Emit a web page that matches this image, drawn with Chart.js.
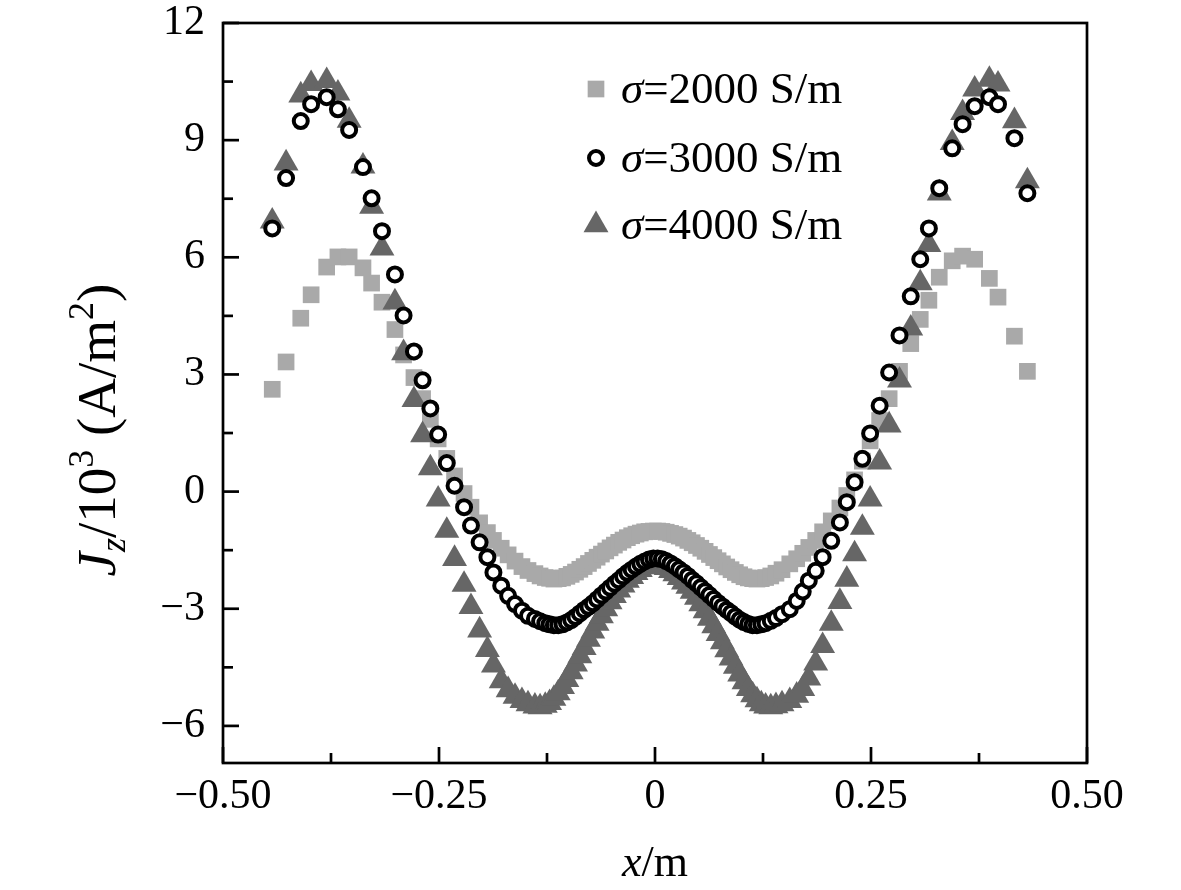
<!DOCTYPE html>
<html>
<head>
<meta charset="utf-8">
<script src="https://cdn.jsdelivr.net/npm/chart.js@4.4.1/dist/chart.umd.min.js"></script>
<style>
  html, body { margin: 0; padding: 0; background: #fff; }
  #wrap { width: 1181px; height: 890px; }
</style>
</head>
<body>
<div id="wrap"><canvas id="myChart" width="1181" height="890"></canvas></div>
<script>
//data (x in m, Jz in 10^3 A/m^2)
const xPos = [
  -0.443, -0.427, -0.410, -0.398, -0.380, -0.367, -0.354, -0.338, -0.328, -0.316,
  -0.301, -0.291, -0.279, -0.269, -0.260, -0.251, -0.241, -0.232, -0.221, -0.213,
  -0.203, -0.194, -0.187, -0.178, -0.170, -0.162, -0.154, -0.147, -0.139, -0.133,
  -0.127, -0.122, -0.117, -0.112, -0.107, -0.102, -0.097, -0.092, -0.087, -0.082,
  -0.077, -0.072, -0.067, -0.062, -0.057, -0.052, -0.047, -0.042, -0.037, -0.032,
  -0.027, -0.022, -0.017, -0.012, -0.007, -0.002, 0.003, 0.008, 0.013, 0.018,
  0.023, 0.028, 0.033, 0.038, 0.043, 0.048, 0.053, 0.058, 0.063, 0.068,
  0.073, 0.078, 0.083, 0.088, 0.093, 0.098, 0.103, 0.108, 0.113, 0.118,
  0.123, 0.128, 0.134, 0.140, 0.147, 0.156, 0.164, 0.171, 0.178, 0.186,
  0.194, 0.204, 0.214, 0.222, 0.231, 0.240, 0.249, 0.260, 0.271, 0.283,
  0.296, 0.307, 0.317, 0.329, 0.344, 0.356, 0.370, 0.387, 0.397, 0.416,
  0.431
];
const j2000 = [
  2.62, 3.32, 4.44, 5.04, 5.75, 6.01, 6.01, 5.73, 5.34, 4.85,
  4.15, 3.50, 2.92, 2.38, 1.85, 1.35, 0.85, 0.40, -0.05, -0.40,
  -0.80, -1.05, -1.25, -1.45, -1.62, -1.78, -1.92, -2.02, -2.10, -2.16,
  -2.20, -2.22, -2.24, -2.23, -2.21, -2.17, -2.12, -2.06, -1.99, -1.92,
  -1.84, -1.76, -1.68, -1.60, -1.52, -1.44, -1.37, -1.30, -1.24, -1.18,
  -1.13, -1.09, -1.06, -1.03, -1.02, -1.01, -1.01, -1.02, -1.04, -1.07,
  -1.10, -1.14, -1.19, -1.25, -1.31, -1.38, -1.45, -1.53, -1.61, -1.69,
  -1.77, -1.85, -1.93, -2.00, -2.07, -2.13, -2.18, -2.21, -2.23, -2.24,
  -2.23, -2.20, -2.16, -2.09, -2.00, -1.85, -1.72, -1.58, -1.43, -1.25,
  -1.03, -0.75, -0.42, -0.10, 0.30, 0.78, 1.30, 1.82, 2.38, 3.08,
  3.79, 4.41, 4.90, 5.49, 5.91, 6.03, 5.95, 5.46, 4.98, 3.98,
  3.08
];
const j3000 = [
  6.74, 8.03, 9.49, 9.92, 10.10, 9.79, 9.26, 8.31, 7.51, 6.67,
  5.56, 4.51, 3.59, 2.85, 2.13, 1.46, 0.73, 0.15, -0.40, -0.87,
  -1.30, -1.68, -2.07, -2.41, -2.67, -2.88, -3.05, -3.18, -3.26, -3.32,
  -3.37, -3.40, -3.42, -3.42, -3.40, -3.35, -3.29, -3.21, -3.12, -3.03,
  -2.95, -2.86, -2.76, -2.66, -2.56, -2.46, -2.36, -2.27, -2.17, -2.08,
  -2.00, -1.92, -1.85, -1.79, -1.74, -1.71, -1.71, -1.73, -1.78, -1.84,
  -1.91, -1.99, -2.07, -2.16, -2.26, -2.35, -2.45, -2.55, -2.65, -2.75,
  -2.85, -2.94, -3.03, -3.11, -3.20, -3.28, -3.34, -3.39, -3.42, -3.42,
  -3.40, -3.37, -3.31, -3.24, -3.14, -3.01, -2.80, -2.56, -2.28, -2.03,
  -1.68, -1.26, -0.79, -0.27, 0.24, 0.84, 1.49, 2.20, 3.05, 4.00,
  5.00, 5.95, 6.74, 7.77, 8.79, 9.41, 9.87, 10.10, 9.92, 9.05,
  7.64
];
const j4000 = [
  6.92, 8.41, 10.15, 10.44, 10.52, 10.20, 9.50, 8.33, 7.30, 6.23,
  4.85, 3.55, 2.35, 1.45, 0.60, -0.20, -1.00, -1.72, -2.38, -2.95,
  -3.55, -4.05, -4.45, -4.85, -5.08, -5.25, -5.36, -5.44, -5.50, -5.52,
  -5.48, -5.41, -5.30, -5.16, -5.00, -4.82, -4.62, -4.42, -4.21, -4.00,
  -3.79, -3.58, -3.38, -3.19, -3.01, -2.83, -2.67, -2.53, -2.40, -2.28,
  -2.18, -2.08, -2.00, -1.93, -1.88, -1.85, -1.86, -1.90, -1.95, -2.03,
  -2.11, -2.21, -2.32, -2.43, -2.56, -2.71, -2.88, -3.06, -3.25, -3.44,
  -3.64, -3.85, -4.06, -4.27, -4.48, -4.68, -4.88, -5.05, -5.21, -5.34,
  -5.44, -5.50, -5.52, -5.49, -5.44, -5.36, -5.22, -5.05, -4.78, -4.40,
  -3.95, -3.38, -2.82, -2.25, -1.60, -0.92, -0.20, 0.75, 1.70, 2.85,
  4.18, 5.34, 6.32, 7.64, 8.93, 9.70, 10.30, 10.55, 10.43, 9.49,
  7.95
];
const seriesNames = ['2000', '3000', '4000'];
//ticks: every value gets an inward tick, labelled ones are the major ticks
const xTickValues = [-0.5, -0.375, -0.25, -0.125, 0, 0.125, 0.25, 0.375, 0.5];
const xTickLabels = ['\u22120.50', '', '\u22120.25', '', '0', '', '0.25', '', '0.50'];
const yTickValues = [-6, -4.5, -3, -1.5, 0, 1.5, 3, 4.5, 6, 7.5, 9, 10.5, 12];
const yTickLabels = ['\u22126', '', '\u22123', '', '0', '', '3', '', '6', '', '9', '', '12'];

const serif = "'Liberation Serif', 'Times New Roman', serif";
const toPoints = (ys) => ys.map((y, i) => ({ x: xPos[i], y: y }));

const styles = [
  { pointStyle: 'rect', radius: 11.8, backgroundColor: '#a9a9a9', borderColor: '#a9a9a9', borderWidth: 0, order: 3 },
  { pointStyle: 'circle', radius: 7, backgroundColor: '#ffffff', borderColor: '#000000', borderWidth: 4, order: 1 },
  { pointStyle: 'triangle', radius: 14.4, backgroundColor: '#666666', borderColor: '#666666', borderWidth: 0, order: 2 }
];
const values = [j2000, j3000, j4000];

//inward ticks, frame, legend and rich axis titles
const decorations = {
  id: 'decorations',
  afterDraw(chart) {
    const ctx = chart.ctx;
    const area = chart.chartArea;
    const xs = chart.scales.x;
    const ys = chart.scales.y;
    ctx.save();
    ctx.strokeStyle = '#000';
    ctx.lineWidth = 2.7;
    ctx.lineCap = 'butt';
    xs.ticks.forEach((t, i) => {
      const px = xs.getPixelForValue(t.value);
      ctx.beginPath();
      ctx.moveTo(px, area.bottom);
      ctx.lineTo(px, area.bottom - (xTickLabels[i] ? 16 : 10));
      ctx.stroke();
    });
    ys.ticks.forEach((t, i) => {
      const py = ys.getPixelForValue(t.value);
      ctx.beginPath();
      ctx.moveTo(area.left, py);
      ctx.lineTo(area.left + (yTickLabels[i] ? 16 : 10), py);
      ctx.stroke();
    });
    ctx.strokeRect(area.left, area.top, area.right - area.left, area.bottom - area.top);

    //legend
    const rows = [89, 158, 225];
    chart.data.datasets.forEach((ds, i) => {
      ctx.fillStyle = ds.backgroundColor;
      ctx.strokeStyle = ds.borderColor;
      ctx.lineWidth = ds.borderWidth;
      Chart.helpers.drawPoint(ctx, {
        pointStyle: ds.pointStyle,
        radius: ds.pointRadius,
        rotation: 0,
        borderWidth: ds.borderWidth
      }, 596, rows[i]);
      ctx.fillStyle = '#000';
      ctx.textBaseline = 'alphabetic';
      ctx.textAlign = 'left';
      ctx.font = 'italic 45px ' + serif;
      ctx.fillText('\u03c3', 621, rows[i] + 14);
      const w = ctx.measureText('\u03c3').width;
      ctx.font = '45px ' + serif;
      ctx.fillText('=' + seriesNames[i] + ' S/m', 621 + w, rows[i] + 14);
    });

    //rich text helper: parts of [text, italic, small, shift]
    const drawRich = (parts, cx, cy, size) => {
      const fontOf = p => (p[1] ? 'italic ' : '') + Math.round(p[2] ? size * 0.65 : size) + 'px ' + serif;
      let total = 0;
      parts.forEach(p => { ctx.font = fontOf(p); total += ctx.measureText(p[0]).width; });
      let x = cx - total / 2;
      parts.forEach(p => {
        ctx.font = fontOf(p);
        ctx.fillText(p[0], x, cy + p[3]);
        x += ctx.measureText(p[0]).width;
      });
    };
    ctx.fillStyle = '#000';
    ctx.textAlign = 'left';
    ctx.textBaseline = 'alphabetic';
    drawRich([['x', true, false, 0], ['/m', false, false, 0]], (area.left + area.right) / 2, 876, 44);

    ctx.save();
    ctx.translate(115, 430);
    ctx.rotate(-Math.PI / 2);
    drawRich([
      ['J', true, false, 0], ['z', true, true, 10], ['/10', false, false, 0], ['3', false, true, -22],
      [' (A/m', false, false, 0], ['2', false, true, -22], [')', false, false, 0]
    ], 0, 0, 55);
    ctx.restore();
    ctx.restore();
  }
};

const ctx = document.getElementById('myChart').getContext('2d');
window.myChart = new Chart(ctx, {
  type: 'scatter',
  data: {
    datasets: values.map((v, i) => ({
      label: '\u03c3=' + seriesNames[i] + ' S/m',
      data: toPoints(v),
      pointStyle: styles[i].pointStyle,
      pointRadius: styles[i].radius,
      pointHoverRadius: styles[i].radius,
      backgroundColor: styles[i].backgroundColor,
      borderColor: styles[i].borderColor,
      borderWidth: styles[i].borderWidth,
      order: styles[i].order,
      showLine: false
    }))
  },
  options: {
    responsive: false,
    animation: false,
    devicePixelRatio: 1,
    events: [],
    layout: { padding: { left: 0, top: 23, right: 94, bottom: 0 } },
    plugins: {
      legend: { display: false },
      tooltip: { enabled: false }
    },
    scales: {
      x: {
        type: 'linear',
        min: -0.5,
        max: 0.5,
        afterBuildTicks: (scale) => { scale.ticks = xTickValues.map(v => ({ value: v })); },
        afterFit: (scale) => { scale.height = 127; scale.paddingLeft = 0; scale.paddingRight = 0; },
        grid: { display: false, drawTicks: false },
        border: { display: false },
        ticks: {
          autoSkip: false,
          maxRotation: 0,
          padding: 9,
          color: '#000',
          font: { family: serif, size: 42 },
          callback: (v, i) => xTickLabels[i]
        }
      },
      y: {
        type: 'linear',
        min: -6.95,
        max: 12,
        afterBuildTicks: (scale) => { scale.ticks = yTickValues.map(v => ({ value: v })); },
        afterFit: (scale) => { scale.width = 223; scale.paddingTop = 0; scale.paddingBottom = 0; },
        grid: { display: false, drawTicks: false },
        border: { display: false },
        ticks: {
          autoSkip: false,
          padding: 18,
          color: '#000',
          font: { family: serif, size: 42 },
          callback: (v, i) => yTickLabels[i]
        }
      }
    }
  },
  plugins: [decorations]
});
</script>
</body>
</html>
